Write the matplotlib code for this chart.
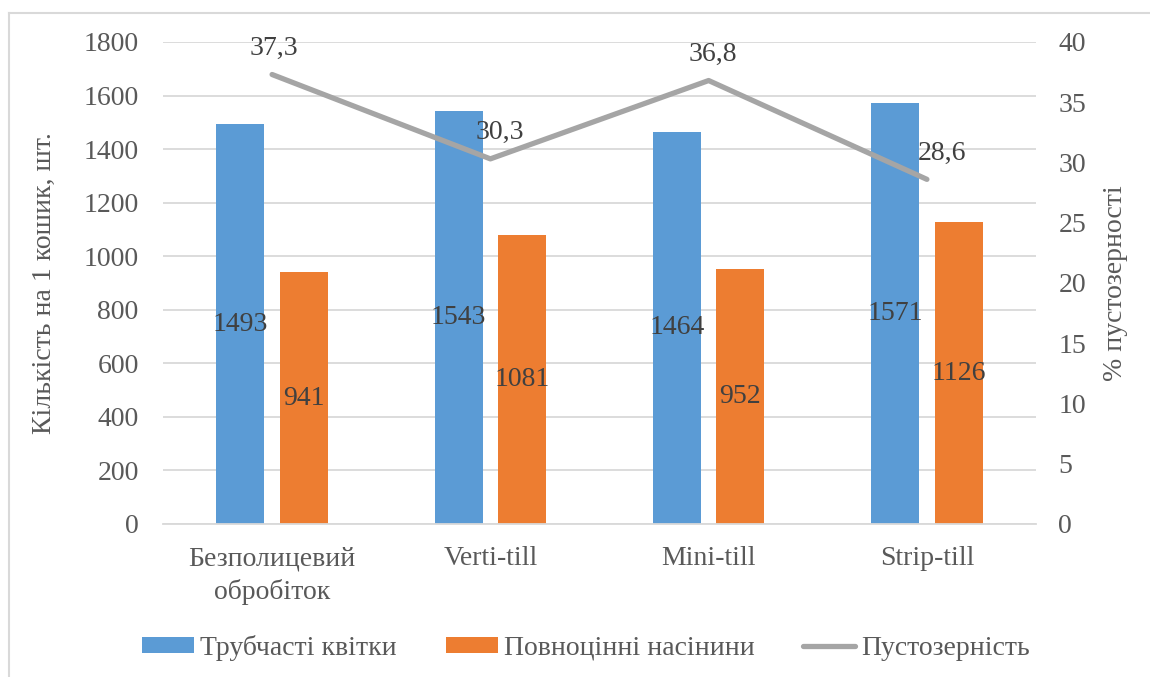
import numpy as np
import matplotlib
matplotlib.use('Agg')
import matplotlib.pyplot as plt
from matplotlib.lines import Line2D

categories = ["Безполицевий\nобробіток", "Verti-till", "Mini-till", "Strip-till"]
tubular = [1493, 1543, 1464, 1571]
full_seeds = [941, 1081, 952, 1126]
emptiness = [37.3, 30.3, 36.8, 28.6]

blue = "#5B9BD5"
orange = "#ED7D31"
gray = "#A5A5A5"
txt = "#595959"
fs = 20

plt.rcParams['font.family'] = ['Liberation Serif', 'DejaVu Serif']

fig = plt.figure(figsize=(11.5, 6.77), dpi=100)
ax = fig.add_axes([0.1417, 0.226, 0.7592, 0.712])
ax2 = ax.twinx()

x = np.arange(len(categories))
w = 0.22
off = 0.145
b1 = ax.bar(x - off, tubular, w, color=blue, label="Трубчасті квітки", zorder=2)
b2 = ax.bar(x + off, full_seeds, w, color=orange, label="Повноцінні насінини", zorder=2)

for bars, vals in ((b1, tubular), (b2, full_seeds)):
    for r, v in zip(bars, vals):
        ax.text(r.get_x() + r.get_width() / 2, v / 2, str(v), ha='center', va='center',
                fontsize=fs, color="#404040", zorder=3)

ax.set_xlim(-0.5, 3.5)
ax.set_ylim(0, 1800)
ax.set_yticks(np.arange(0, 1801, 200))
ax.grid(axis='y', color="#D9D9D9", linewidth=1.3, zorder=0)
ax.set_axisbelow(True)
ax.set_xticks(x)
ax.set_xticklabels(categories, fontsize=fs, color=txt, linespacing=1.4)
ax.tick_params(axis='x', length=0, pad=16)
ax.tick_params(axis='y', length=0, pad=17.5, labelsize=fs, labelcolor=txt)
for s in ax.spines.values():
    s.set_visible(False)
ax.spines['bottom'].set_visible(True)
ax.spines['bottom'].set_color("#D9D9D9")
ax.spines['bottom'].set_linewidth(1.3)
ax.set_ylabel("Кількість на 1 кошик, шт.", fontsize=fs, color=txt, labelpad=19)

# line labels sit above the points, nudged right where they would hit the bars
label_dx = [1, 7, 3, 11]
ax2.plot(x, emptiness, color=gray, linewidth=3.8, solid_capstyle='round', zorder=4)
for xi, v, dx in zip(x, emptiness, label_dx):
    ax2.annotate(f"{v:.1f}".replace('.', ','), (xi, v), xytext=(dx, 10),
                 textcoords='offset points', ha='center', va='bottom',
                 fontsize=fs, color="#404040")
ax2.set_ylim(0, 40)
ax2.set_yticks(np.arange(0, 41, 5))
ax2.tick_params(axis='y', length=0, pad=16, labelsize=fs, labelcolor=txt)
for s in ax2.spines.values():
    s.set_visible(False)
ax2.set_ylabel("% пустозерності", fontsize=fs, color=txt, labelpad=12)

handles = [b1, b2, Line2D([0], [0], color=gray, linewidth=3.8, solid_capstyle='round')]
labels = ["Трубчасті квітки", "Повноцінні насінини", "Пустозерність"]
leg = fig.legend(handles, labels, loc='center', bbox_to_anchor=(0.5096, 0.043), ncol=3,
                 frameon=False, fontsize=fs, handlelength=1.87, handleheight=0.47,
                 handletextpad=0.22, columnspacing=1.76)
for t in leg.get_texts():
    t.set_color(txt)

# chart frame (top and left edges)
fig.add_artist(Line2D([9 / 1150, 1], [1 - 13 / 677, 1 - 13 / 677], color="#D9D9D9",
                      linewidth=1.5, transform=fig.transFigure))
fig.add_artist(Line2D([9 / 1150, 9 / 1150], [0, 1 - 13 / 677], color="#D9D9D9",
                      linewidth=1.5, transform=fig.transFigure))

fig.savefig("out.png", dpi=100)
